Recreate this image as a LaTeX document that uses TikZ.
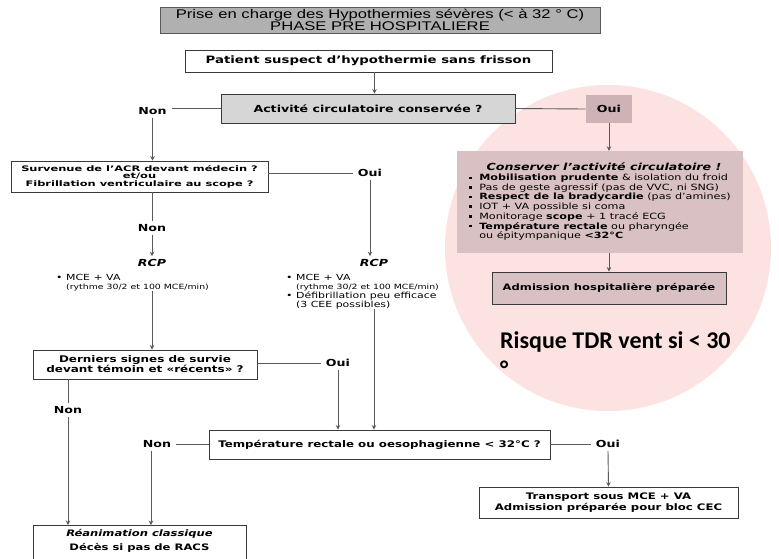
\documentclass[tikz,border=0pt]{standalone}
\usepackage{fontspec}
\usetikzlibrary{arrows.meta,positioning}
\newfontfamily\verd[FakeStretch=1.3]{DejaVu Sans}
\newfontfamily\verdw[FakeStretch=1.5]{DejaVu Sans}
\newfontfamily\ariel[FakeStretch=1.32]{Liberation Sans}
\newfontfamily\calib{Carlito}
\definecolor{zonerose}{HTML}{FDE2E2}
\definecolor{titregris}{HTML}{B0B0B0}
\definecolor{questgris}{HTML}{D6D6D6}
\definecolor{rosefonce}{HTML}{CDB3B5}
\definecolor{rosemoyen}{HTML}{D9C1C3}
\definecolor{trait}{HTML}{5A5A5A}
\definecolor{cadre}{HTML}{3A3A3A}
\newcommand\puce{\makebox[10pt][l]{\textbullet}}
\newcommand\carre{\makebox[10pt][l]{\raisebox{1.6pt}{\rule{2.6pt}{2.6pt}}}}
\newcommand\retrait{\hspace*{10pt}}
\tikzset{
  etape/.style={draw=cadre, line width=0.9pt, fill=white, align=center, inner sep=0pt,
    font=\verd\bfseries\fontsize{9.7}{11}\selectfont},
  reponse/.style={font=\verd\bfseries\fontsize{9.7}{11}\selectfont, inner xsep=5pt, inner ysep=3pt},
  soins/.style={align=left, inner sep=0pt, font=\verd\fontsize{8.4}{9}\selectfont},
  lien/.style={draw=trait, line width=0.9pt},
  fleche/.style={lien, -{Stealth[length=4.5pt,width=4.5pt]}},
}
\begin{document}
\begin{tikzpicture}[x=1pt,y=-1pt]
\useasboundingbox (0,0) rectangle (779,558);
\clip (0,0) rectangle (779,558);
\fill[white] (0,0) rectangle (779,558);
% zone rose
\fill[zonerose] (608,248) circle (163pt);
% titre
\node[draw=gray!70!black, line width=0.6pt, fill=titregris, minimum width=440pt, minimum height=26pt,
  align=center, inner sep=0pt, font=\ariel\fontsize{12.6}{11.5}\selectfont] (titre) at (380,20)
  {Prise en charge des Hypothermies sévères (< à 32 ° C)\\PHASE PRE HOSPITALIERE};
\node[etape, minimum width=367pt, minimum height=22pt, font=\verd\bfseries\fontsize{10.2}{12}\selectfont]
  (patient) at (368.5,61) {Patient suspect d’hypothermie sans frisson};
\node[etape, fill=questgris, minimum width=294pt, minimum height=29pt] (activ) at (368,108.5)
  {Activité circulatoire conservée ?};
\node[reponse] (nonA) at (152.5,111) {Non};
\node[etape, draw=none, fill=rosefonce, minimum width=46pt, minimum height=28pt] (ouiA) at (609,109) {Oui};
% branche circulation conservee
\node[fill=rosemoyen, minimum width=286pt, minimum height=102pt, inner sep=0pt,
  font=\verd\fontsize{8.6}{9.6}\selectfont] (conserver) at (600,202)
  {\begin{tabular}{@{}l@{}}
  \multicolumn{1}{c}{\bfseries\itshape\fontsize{9.7}{11}\selectfont\hspace*{8pt}Conserver l’activité circulatoire !}\\[1pt]
  \carre\textbf{Mobilisation prudente} \& isolation du froid\\
  \carre Pas de geste agressif (pas de VVC, ni SNG)\\
  \carre\textbf{Respect de la bradycardie} (pas d’amines)\\
  \carre IOT + VA possible si coma\\
  \carre Monitorage \textbf{scope} + 1 tracé ECG\\
  \carre\textbf{Température rectale} ou pharyngée\\
  \retrait ou épitympanique \textbf{<32°C}
  \end{tabular}};
\node[etape, fill=rosemoyen, minimum width=234pt, minimum height=32pt,
  font=\verd\bfseries\fontsize{8.9}{11}\selectfont] (admission) at (609,288)
  {Admission hospitalière préparée};
\node[anchor=base west, align=left, inner sep=0pt, font=\calib\bfseries\fontsize{24}{29}\selectfont]
  (risque) at (500,377) {Risque TDR vent si < 30\\°};
% branche arret
\node[etape, minimum width=257pt, minimum height=31pt, font=\verdw\bfseries\fontsize{7.6}{7.7}\selectfont]
  (acr) at (139.5,176.5) {Survenue de l’ACR devant médecin ?\\et/ou\\Fibrillation ventriculaire au scope ?};
\node[reponse] (ouiB) at (370,173) {Oui};
\node[reponse] (nonB) at (152,228) {Non};
\node[reponse, font=\verd\bfseries\itshape\fontsize{9.7}{11}\selectfont] (rcpA) at (152,263) {RCP};
\node[reponse, font=\verd\bfseries\itshape\fontsize{9.7}{11}\selectfont] (rcpB) at (374,263) {RCP};
\node[soins, anchor=base west] (soinsA) at (56,289)
  {\puce MCE + VA\\\retrait{\fontsize{7.2}{9}\selectfont(rythme 30/2 et 100 MCE/min)}};
\node[soins, anchor=base west] (soinsB) at (286,307)
  {\puce MCE + VA\\\retrait{\fontsize{7.2}{9}\selectfont(rythme 30/2 et 100 MCE/min)}\\
   \puce Défibrillation peu efficace\\\retrait(3 CEE possibles)};
\node[etape, minimum width=224pt, minimum height=29pt, font=\verd\bfseries\fontsize{9.2}{10}\selectfont]
  (derniers) at (145,364.5) {Derniers signes de survie\\devant témoin et «récents» ?};
\node[reponse] (ouiC) at (338,363) {Oui};
\node[reponse] (nonC) at (68,410) {Non};
\node[etape, minimum width=341pt, minimum height=29pt, font=\verd\bfseries\fontsize{9.1}{11}\selectfont]
  (temp) at (379.5,444.5) {Température rectale ou oesophagienne < 32°C ?};
\node[reponse] (nonD) at (157,444) {Non};
\node[reponse] (ouiD) at (608,444) {Oui};
\node[etape, minimum width=259pt, minimum height=31pt, font=\verd\bfseries\fontsize{9}{10.5}\selectfont]
  (transport) at (608.5,502.5) {Transport sous MCE + VA\\Admission préparée pour bloc CEC};
\node[etape, anchor=north, minimum width=213pt, inner ysep=4pt, font=\verd\bfseries\fontsize{8.9}{11}\selectfont]
  (reanim) at (139.5,525)
  {{\itshape Réanimation classique}\\[3pt]Décès si pas de RACS\rule[-16pt]{0pt}{0pt}};
% liaisons
\draw[fleche] ([xshift=6pt]patient.south) -- ([xshift=6pt]patient.south |- activ.north);
\draw[lien] (activ.west) -- (activ.west -| nonA.east);
\draw[fleche] (nonA.south) -- (nonA.south |- acr.north);
\draw[lien] (activ.east) -- (ouiA.west);
\draw[fleche] (ouiA.south) -- (ouiA.south |- conserver.north);
\draw[fleche] (ouiA |- conserver.south) -- (admission.north);
\draw[lien] (acr.east |- ouiB) -- (ouiB.west);
\draw[fleche] (ouiB.south) -- (ouiB.south |- rcpB.north);
\draw[lien] (nonB |- acr.south) -- (nonB.north);
\draw[fleche] (nonB.south) -- (rcpA.north);
\draw[fleche] (rcpA |- soinsA.south) -- (rcpA |- derniers.north);
\draw[lien] (derniers.east |- ouiC) -- (ouiC.west);
\draw[fleche] (ouiC.south) -- (ouiC.south |- temp.north);
\draw[fleche] (rcpB |- soinsB.south) -- (rcpB |- temp.north);
\draw[lien] (nonC |- derniers.south) -- (nonC.north);
\draw[fleche] (nonC.south) -- (nonC.south |- reanim.north);
\draw[lien] (temp.west |- nonD) -- (nonD.east);
\draw[fleche] ([xshift=-6pt]nonD.south) -- ([xshift=-6pt]nonD.south |- reanim.north);
\draw[lien] (temp.east |- ouiD) -- (ouiD.west);
\draw[fleche] (ouiD.south) -- (transport.north);
\end{tikzpicture}
\end{document}
